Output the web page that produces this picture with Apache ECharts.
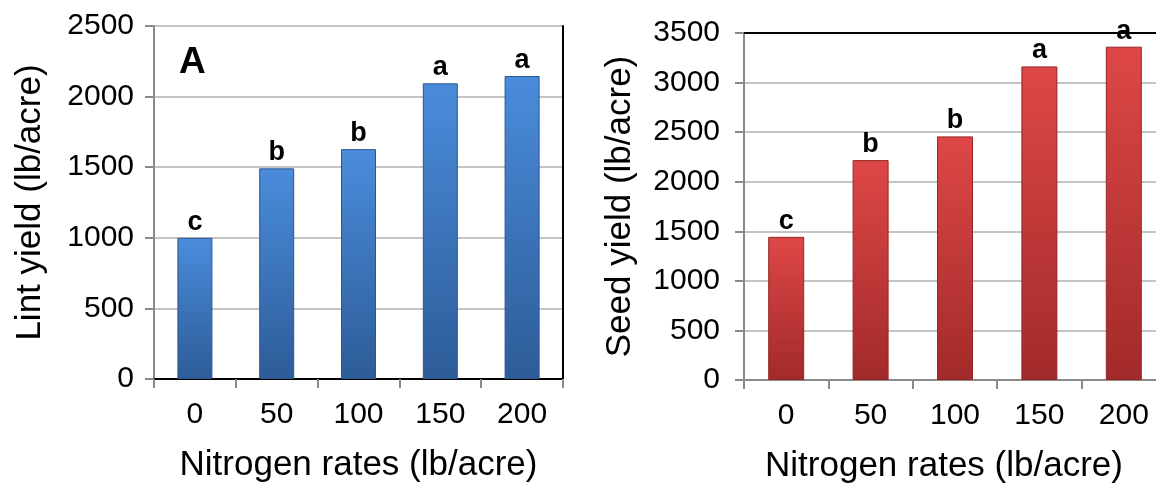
<!DOCTYPE html>
<html>
<head>
<meta charset="utf-8">
<script src="https://cdn.jsdelivr.net/npm/echarts@6/dist/echarts.min.js"></script>
<style>
html,body{margin:0;padding:0;background:#fff;}
#chart{width:1156px;height:483px;}
</style>
</head>
<body>
<div id="chart"></div>
<script>
const categories = ['0', '50', '100', '150', '200'];
const lintYield = [1000, 1492, 1628, 2094, 2146];
const lintLetters = ['c', 'b', 'b', 'a', 'a'];
const seedYield = [1444, 2218, 2457, 3163, 3362];
const seedLetters = ['c', 'b', 'b', 'a', 'a'];
const lintTicks = {min: 0, max: 2500, interval: 500};
const seedTicks = {min: 0, max: 3500, interval: 500};

const FONT = "'Liberation Sans', Arial, sans-serif";
const chart = echarts.init(document.getElementById('chart'), null, {renderer: 'canvas'});

function grad(top, bottom) {
  return new echarts.graphic.LinearGradient(0, 0, 0, 1, [
    {offset: 0, color: top}, {offset: 1, color: bottom}
  ]);
}

function xMain(gi, padRight) {
  return {
    gridIndex: gi, type: 'category', data: categories, position: 'bottom',
    axisLine: {show: true, lineStyle: {color: '#8a8a8a', width: 2}},
    axisTick: {show: true, length: 9, lineStyle: {color: '#8a8a8a', width: 2}},
    axisLabel: {color: '#000', fontSize: 30, fontFamily: FONT, margin: 21},
    name: 'Nitrogen rates (lb/acre)', nameLocation: 'middle', nameGap: 69,
    nameTextStyle: {color: '#000', fontSize: 35, fontFamily: FONT, padding: [0, padRight, 0, 0]}
  };
}
function xTop(gi) {
  return {
    gridIndex: gi, type: 'category', data: categories, position: 'top',
    axisLine: {show: true, lineStyle: {color: '#000', width: 2}},
    axisTick: {show: false}, axisLabel: {show: false}, splitLine: {show: false}
  };
}
function yMain(gi, t, name, gap) {
  return {
    gridIndex: gi, type: 'value', min: t.min, max: t.max, interval: t.interval, position: 'left',
    axisLine: {show: true, lineStyle: {color: '#8a8a8a', width: 2}},
    axisTick: {show: true, length: 9, lineStyle: {color: '#8a8a8a', width: 2}},
    axisLabel: {color: '#000', fontSize: 30, fontFamily: FONT, margin: gap, formatter: v => String(v)},
    splitLine: {show: true, lineStyle: {color: '#c4c4c4', width: 2}},
    name: name, nameLocation: 'middle', nameGap: 106,
    nameTextStyle: {color: '#000', fontSize: 35, fontFamily: FONT}
  };
}
function yRight(gi, t) {
  return {
    gridIndex: gi, type: 'value', min: t.min, max: t.max, interval: t.interval, position: 'right',
    axisLine: {show: true, lineStyle: {color: '#000', width: 2}},
    axisTick: {show: false}, axisLabel: {show: false}, splitLine: {show: false}
  };
}
function letterLabel(letters) {
  return {
    show: true, position: 'top', distance: 2,
    formatter: p => letters[p.dataIndex],
    color: '#000', fontSize: 27, fontWeight: 'bold', fontFamily: FONT
  };
}

chart.setOption({
  animation: false,
  backgroundColor: '#ffffff',
  title: [{
    text: 'A', left: 174, top: 39,
    textStyle: {color: '#000', fontSize: 37, fontWeight: 'bold', fontFamily: FONT}
  }],
  grid: [
    {left: 154, top: 26, width: 409, height: 353, containLabel: false, outerBoundsMode: 'none'},
    {left: 744, top: 33, width: 422, height: 347, containLabel: false, outerBoundsMode: 'none'}
  ],
  xAxis: [xMain(0, 0), xTop(0), xMain(1, 22), xTop(1)],
  yAxis: [
    yMain(0, lintTicks, 'Lint yield (lb/acre)', 20),
    yRight(0, lintTicks),
    yMain(1, seedTicks, 'Seed yield (lb/acre)', 24)
  ],
  series: [
    {
      type: 'bar', xAxisIndex: 0, yAxisIndex: 0, data: lintYield, barWidth: 35,
      itemStyle: {color: grad('#4a8cdb', '#2d5c98'), borderColor: '#2b5690', borderWidth: 1},
      label: letterLabel(lintLetters)
    },
    {
      type: 'bar', xAxisIndex: 2, yAxisIndex: 2, data: seedYield, barWidth: 36,
      itemStyle: {color: grad('#de4747', '#a22a2a'), borderColor: '#962626', borderWidth: 1},
      label: letterLabel(seedLetters)
    }
  ]
});
</script>
</body>
</html>
